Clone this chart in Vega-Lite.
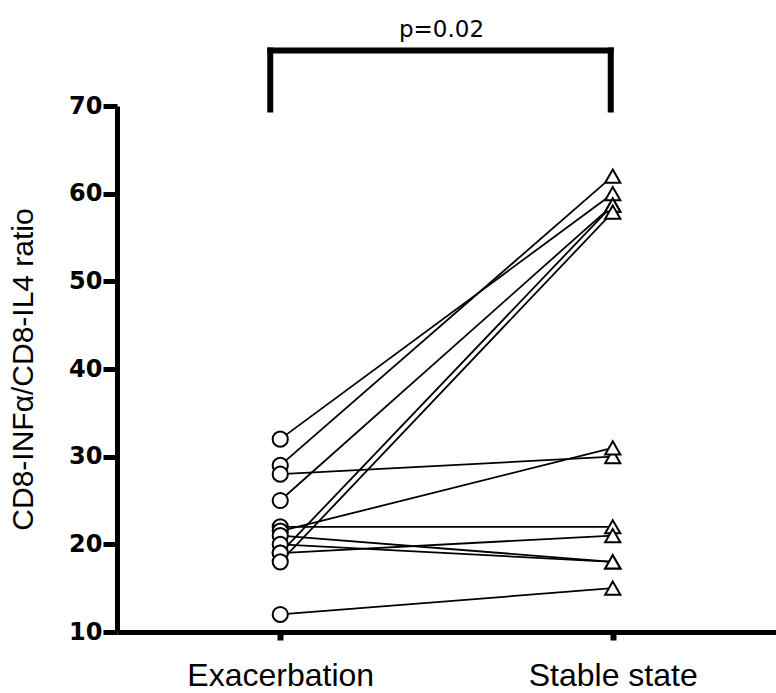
{
  "$schema": "https://vega.github.io/schema/vega-lite/v6.json",
  "width": 659,
  "height": 526,
  "autosize": "none",
  "padding": {"left": 117, "top": 106, "right": 0, "bottom": 61},
  "background": "white",
  "config": {"view": {"stroke": null}},
  "title": {"text": "p=0.02", "font": "DejaVu Sans", "fontSize": 23, "fontWeight": "normal", "color": "black", "anchor": "middle", "offset": 4, "dx": -5},
  "data": {"values": [
    {"subject": 1, "condition": "Exacerbation", "ratio": 32},
    {"subject": 1, "condition": "Stable state", "ratio": 60},
    {"subject": 2, "condition": "Exacerbation", "ratio": 29},
    {"subject": 2, "condition": "Stable state", "ratio": 62},
    {"subject": 3, "condition": "Exacerbation", "ratio": 28},
    {"subject": 3, "condition": "Stable state", "ratio": 30},
    {"subject": 4, "condition": "Exacerbation", "ratio": 25},
    {"subject": 4, "condition": "Stable state", "ratio": 58.7},
    {"subject": 5, "condition": "Exacerbation", "ratio": 22},
    {"subject": 5, "condition": "Stable state", "ratio": 22},
    {"subject": 6, "condition": "Exacerbation", "ratio": 21.5},
    {"subject": 6, "condition": "Stable state", "ratio": 31},
    {"subject": 7, "condition": "Exacerbation", "ratio": 21},
    {"subject": 7, "condition": "Stable state", "ratio": 18},
    {"subject": 8, "condition": "Exacerbation", "ratio": 20},
    {"subject": 8, "condition": "Stable state", "ratio": 18},
    {"subject": 9, "condition": "Exacerbation", "ratio": 19},
    {"subject": 9, "condition": "Stable state", "ratio": 21},
    {"subject": 10, "condition": "Exacerbation", "ratio": 19},
    {"subject": 10, "condition": "Stable state", "ratio": 58.7},
    {"subject": 11, "condition": "Exacerbation", "ratio": 18},
    {"subject": 11, "condition": "Stable state", "ratio": 57.9},
    {"subject": 12, "condition": "Exacerbation", "ratio": 12},
    {"subject": 12, "condition": "Stable state", "ratio": 15}
  ]},
  "encoding": {
    "x": {
      "field": "condition", "type": "nominal",
      "scale": {"type": "point", "domain": ["Exacerbation", "Stable state"], "padding": 0.491},
      "axis": {"title": null, "domainWidth": 5, "domainColor": "black", "tickColor": "black", "tickWidth": 6, "tickSize": 8, "labelFont": "Liberation Sans", "labelFontSize": 32, "labelColor": "black", "labelAngle": 0, "labelBaseline": "alphabetic", "labelPadding": 45, "labelLimit": 0, "grid": false}
    },
    "y": {
      "field": "ratio", "type": "quantitative",
      "scale": {"domain": [10, 70], "nice": false, "zero": false},
      "axis": {"title": "CD8-INFα/CD8-IL4 ratio", "titleFont": "Liberation Sans", "titleFontSize": 30, "titleFontWeight": "normal", "titleColor": "black", "titlePadding": 30, "values": [10, 20, 30, 40, 50, 60, 70], "domainWidth": 5, "domainColor": "black", "tickWidth": 5, "tickSize": 14, "tickColor": "black", "labelFont": "DejaVu Sans", "labelFontWeight": "bold", "labelFontSize": 24, "labelColor": "black", "labelPadding": 1, "grid": false}
    }
  },
  "layer": [
    {
      "mark": {"type": "line", "color": "black", "strokeWidth": 1.8},
      "encoding": {"detail": {"field": "subject", "type": "nominal"}}
    },
    {
      "mark": {"type": "point", "filled": true, "fill": "white", "stroke": "black", "strokeWidth": 2, "size": 230, "opacity": 1},
      "encoding": {
        "shape": {"field": "condition", "type": "nominal", "scale": {"domain": ["Exacerbation", "Stable state"], "range": ["circle", "triangle-up"]}, "legend": null}
      }
    },
    {
      "data": {"values": [{"from": "Exacerbation", "to": "Stable state", "top": 76.33, "bottom": 69.6}]},
      "mark": {"type": "rule", "color": "black", "strokeWidth": 6, "strokeCap": "square", "clip": false, "xOffset": -10, "x2Offset": -2},
      "encoding": {
        "x": {"field": "from", "type": "nominal"},
        "x2": {"field": "to"},
        "y": {"field": "top", "type": "quantitative"}
      }
    },
    {
      "data": {"values": [{"from": "Exacerbation", "to": "Stable state", "top": 76.33, "bottom": 69.6}]},
      "mark": {"type": "rule", "color": "black", "strokeWidth": 6, "strokeCap": "square", "clip": false, "xOffset": -10},
      "encoding": {
        "x": {"field": "from", "type": "nominal"},
        "y": {"field": "top", "type": "quantitative"},
        "y2": {"field": "bottom"}
      }
    },
    {
      "data": {"values": [{"from": "Exacerbation", "to": "Stable state", "top": 76.33, "bottom": 69.6}]},
      "mark": {"type": "rule", "color": "black", "strokeWidth": 6, "strokeCap": "square", "clip": false, "xOffset": -2},
      "encoding": {
        "x": {"field": "to", "type": "nominal"},
        "y": {"field": "top", "type": "quantitative"},
        "y2": {"field": "bottom"}
      }
    }
  ]
}
